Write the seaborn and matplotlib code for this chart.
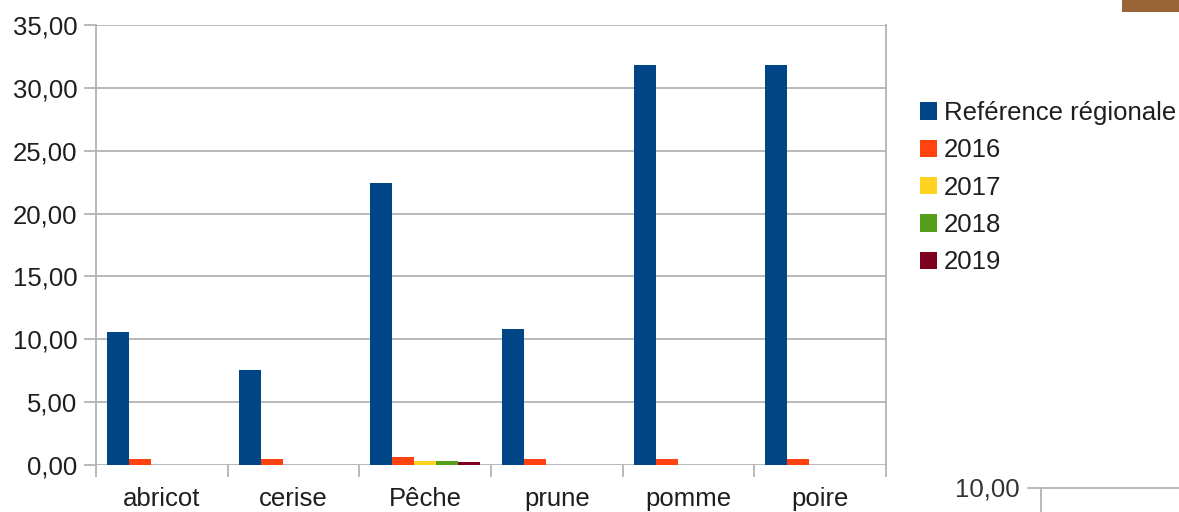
import matplotlib
matplotlib.use("Agg")
import matplotlib.pyplot as plt
import seaborn as sns
import pandas as pd
import numpy as np
from matplotlib.lines import Line2D
from matplotlib.patches import Rectangle
from matplotlib.ticker import FuncFormatter, FixedLocator

categories = ["abricot", "cerise", "Pêche", "prune", "pomme", "poire"]
series_names = ["Reférence régionale", "2016", "2017", "2018", "2019"]
ref_regionale = [10.55, 7.55, 22.4, 10.85, 31.8, 31.8]
v2016 = [0.5, 0.5, 0.6, 0.5, 0.5, 0.5]
v2017 = [0.0, 0.0, 0.3, 0.0, 0.0, 0.0]
v2018 = [0.0, 0.0, 0.3, 0.0, 0.0, 0.0]
v2019 = [0.0, 0.0, 0.2, 0.0, 0.0, 0.0]
y_ticks = [0, 5, 10, 15, 20, 25, 30, 35]
colors = ["#004586", "#ff420e", "#ffd320", "#579d1c", "#7e0021"]

values = [ref_regionale, v2016, v2017, v2018, v2019]
rows = []
for name, vals in zip(series_names, values):
    for c, v in zip(categories, vals):
        rows.append({"cat": c, "serie": name, "val": v})
df = pd.DataFrame(rows)

sns.set_theme(style="white")
plt.rcParams["font.family"] = ["Liberation Sans", "DejaVu Sans"]

FS = 18.5
W, H = 1179, 512
fig = plt.figure(figsize=(W / 100, H / 100), dpi=100)
ax = fig.add_axes([96 / W, (H - 465) / H, 790 / W, 440 / H])

sns.barplot(data=df, x="cat", y="val", hue="serie", order=categories,
            hue_order=series_names, palette=colors, width=0.835, gap=0,
            saturation=1, ax=ax, legend=True, edgecolor="none", linewidth=0)

ax.set_xlim(-0.5, len(categories) - 0.5)
ax.set_ylim(0, 35)
ax.set_yticks(y_ticks)
ax.yaxis.set_major_formatter(FuncFormatter(lambda v, p: f"{v:.2f}".replace(".", ",")))
ax.set_xlabel("")
ax.set_ylabel("")

grid_c = "#b3b3b3"
ax.grid(axis="y", color=grid_c, linewidth=1.3)
ax.set_axisbelow(True)
for s in ["left", "right"]:
    ax.spines[s].set_visible(True)
    ax.spines[s].set_color(grid_c)
    ax.spines[s].set_linewidth(1.3)
for s in ["top", "bottom"]:
    ax.spines[s].set_visible(False)

ax.tick_params(axis="y", which="major", left=True, length=8.5, width=1.3,
               color=grid_c, pad=5, labelsize=FS, labelcolor="#1e1e1e")
ax.tick_params(axis="x", which="major", bottom=False, length=0, pad=16,
               labelsize=FS, labelcolor="#1e1e1e")
ax.xaxis.set_minor_locator(FixedLocator(np.arange(-0.5, len(categories), 1.0)))
ax.tick_params(axis="x", which="minor", bottom=True, length=8.5, width=1.3,
               color=grid_c)
for t in ax.get_xticklines(minor=True):
    t.set_clip_on(False)

handles = [Rectangle((0, 0), 1, 1, facecolor=c, edgecolor="none") for c in colors]
ax.legend(handles, series_names, loc="upper left",
          bbox_to_anchor=(920 / W, (H - 101) / H), bbox_transform=fig.transFigure,
          frameon=False, fontsize=FS, handlelength=0.66, handleheight=0.66,
          handletextpad=0.28, labelspacing=0.52, borderaxespad=0, borderpad=0,
          labelcolor="#1e1e1e")

# fragments of neighbouring elements visible in the screenshot
fig.patches.append(Rectangle((1122 / W, (H - 12) / H), 57 / W, 12 / H,
                             transform=fig.transFigure, facecolor="#9a6536",
                             edgecolor="none"))
fig.text(1020 / W, (H - 489) / H, "10,00", ha="right", va="center",
         fontsize=FS, color="#333333")
fig.lines.append(Line2D([1028 / W, 1.0], [(H - 488) / H] * 2,
                        transform=fig.transFigure, color=grid_c, linewidth=1.3))
fig.lines.append(Line2D([1041 / W, 1041 / W], [(H - 488) / H, 0],
                        transform=fig.transFigure, color=grid_c, linewidth=1.3))

fig.savefig("out.png", dpi=100, facecolor="white")
